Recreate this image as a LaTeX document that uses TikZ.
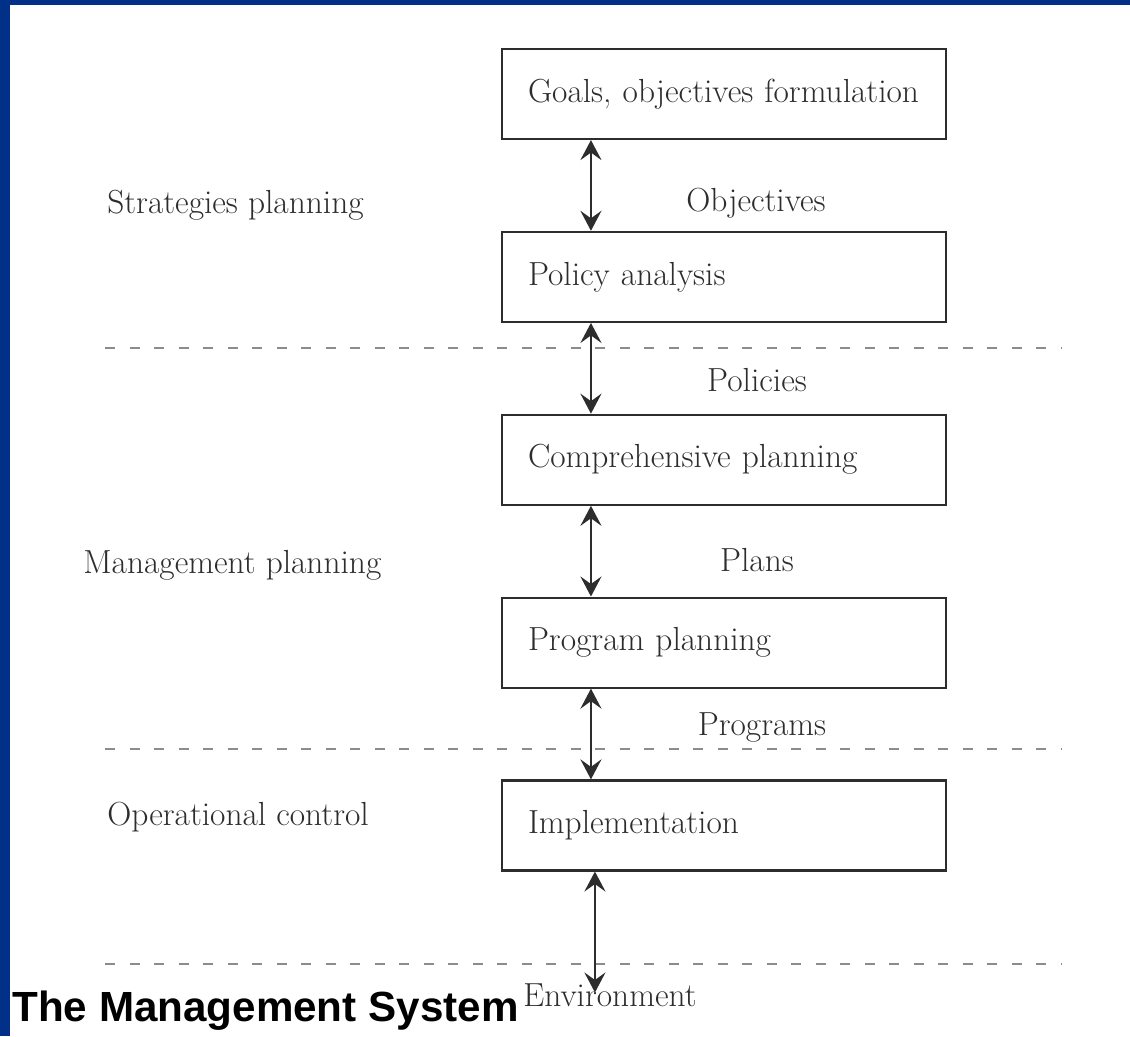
\documentclass[tikz,border=0pt]{standalone}
\usepackage{fontspec}
\newfontfamily\titlefont{Liberation Sans}
\usetikzlibrary{positioning,arrows.meta}
\definecolor{slideblue}{RGB}{0,48,135}
\definecolor{inkgray}{RGB}{45,45,45}

\begin{document}
\begin{tikzpicture}[boxnode/.style={draw=inkgray,line width=1.2pt,minimum height=1.8cm,text width=7.84cm,inner xsep=0.52cm,align=left,text=inkgray,font=\fontsize{19}{22}\selectfont},
		labelnode/.style={text=inkgray,inner sep=0pt,font=\fontsize{19}{22}\selectfont},
		link/.style={{Stealth[length=4mm,width=4.2mm,inset=1.5mm]}-{Stealth[length=4mm,width=4.2mm,inset=1.5mm]},line width=1.5pt,draw=inkgray},
		divider/.style={dash pattern=on 2mm off 2.9mm,line width=1.6pt,draw=gray!90}]
			\useasboundingbox (0,0) rectangle (22.6,-20.72);
			\fill[slideblue] (0,0) rectangle (22.6,-0.1);
			\fill[slideblue] (0,0) rectangle (0.2,-20.72);

			\foreach \y in {-6.96,-14.98,-19.28}
				\draw[divider] (2.1,\y) -- (21.24,\y);

			\node[boxnode]										(goals)		at (14.48,-1.88)	{Goals, objectives formulation};
			\node[boxnode,node distance=1.815cm,below=of goals]	(policy)	{Policy analysis};
			\node[boxnode,node distance=1.815cm,below=of policy]	(comp)		{Comprehensive planning};
			\node[boxnode,node distance=1.815cm,below=of comp]		(prog)		{Program planning};
			\node[boxnode,node distance=1.815cm,below=of prog]		(impl)		{Implementation};
			\coordinate														(env)		at ([xshift=1.88cm,yshift=-2.42cm]impl.south west);

			\node[labelnode,anchor=west]	(strat)		at (2.14,-4.1)		{Strategies planning};
			\node[labelnode,anchor=west]	(manage)	at (1.66,-11.3)		{Management planning};
			\node[labelnode,anchor=west]	(oper)		at (2.14,-16.34)	{Operational control};

			\node[labelnode]				(objs)		at (15.12,-4.06)	{Objectives};
			\node[labelnode]				(pols)		at (15.14,-7.6)		{Policies};
			\node[labelnode]				(plans)		at (15.14,-11.2)	{Plans};
			\node[labelnode]				(progs)		at (15.24,-14.54)	{Programs};
			\node[labelnode,anchor=west]	(envlabel)	at (10.46,-19.9)	{Environment};

			\node[anchor=base west,inner sep=0pt,font=\titlefont\bfseries\fontsize{24}{28}\selectfont]	(title)	at (0.24,-20.42)	{The Management System};

			\draw[link] ([xshift=1.8cm]goals.south west) -- ([xshift=1.8cm]policy.north west);
			\draw[link] ([xshift=1.8cm]policy.south west) -- ([xshift=1.8cm]comp.north west);
			\draw[link] ([xshift=1.8cm]comp.south west) -- ([xshift=1.8cm]prog.north west);
			\draw[link] ([xshift=1.8cm]prog.south west) -- ([xshift=1.8cm]impl.north west);
			\draw[link] ([xshift=1.88cm]impl.south west) -- (env);
		\end{tikzpicture}
\end{document}
